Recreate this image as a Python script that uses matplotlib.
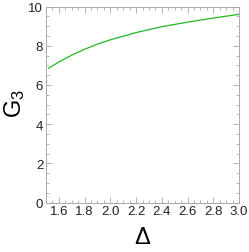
import matplotlib
matplotlib.use("Agg")
import matplotlib.pyplot as plt
from matplotlib.ticker import MultipleLocator

# values
delta = [1.52, 1.6, 1.7, 1.8, 1.9, 2.0, 2.2, 2.4, 2.6, 2.8, 3.0]
g3 = [6.85, 7.17, 7.52, 7.82, 8.08, 8.30, 8.67, 8.97, 9.20, 9.41, 9.60]

x_ticks = [1.6, 1.8, 2.0, 2.2, 2.4, 2.6, 2.8, 3.0]
y_ticks = [0, 2, 4, 6, 8, 10]

plt.rcParams["font.family"] = ["Liberation Sans", "DejaVu Sans"]
plt.rcParams["mathtext.fontset"] = "custom"
plt.rcParams["mathtext.rm"] = "Liberation Sans"

fig = plt.figure(figsize=(2.49, 2.53), dpi=100)
ax = fig.add_axes([46 / 249, 49.5 / 253, 193 / 249, 196 / 253])

ax.plot(delta, g3, color="#22b822", linewidth=0.9)

ax.set_xlim(1.5, 3.0)
ax.set_ylim(0, 10)
ax.set_xticks(x_ticks)
ax.set_xticklabels([f"{v:.1f}" for v in x_ticks])
ax.set_yticks(y_ticks)
ax.xaxis.set_minor_locator(MultipleLocator(0.05))
ax.yaxis.set_minor_locator(MultipleLocator(0.5))

frame_col = "#aaaaaa"
for sp in ax.spines.values():
    sp.set_color(frame_col)
    sp.set_linewidth(0.7)
ax.tick_params(which="both", direction="in", top=True, right=True,
               color=frame_col, width=0.6, labelsize=9.5, pad=2,
               labelcolor="#222222")
ax.tick_params(which="major", length=4)
ax.tick_params(which="minor", length=2)

ax.set_xlabel("Δ", fontsize=17, labelpad=6)
ax.set_ylabel(r"$\mathregular{G_3}$", fontsize=17)
ax.yaxis.label.set_va("center")
ax.yaxis.set_label_coords(-0.165, 0.51)

fig.savefig("out.png", dpi=100)
